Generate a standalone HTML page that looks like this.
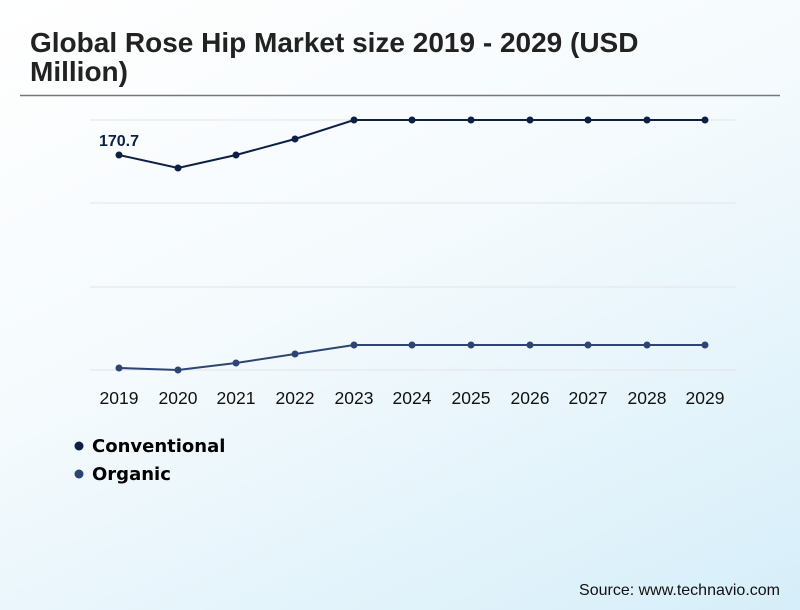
<!DOCTYPE html>
<html><head><style>
body{margin:0;width:800px;height:610px;overflow:hidden;background:linear-gradient(155deg,#ffffff 0%,#f4fafd 45%,#d6eef9 100%);font-family:"Liberation Sans",sans-serif;}
</style></head><body>
<svg width="800" height="610" xmlns="http://www.w3.org/2000/svg" style="position:absolute;left:0;top:0">
<text x="30" y="52" font-family="Liberation Sans" font-weight="bold" font-size="28" fill="#222">Global Rose Hip Market size 2019 - 2029 (USD</text>
<text x="30" y="81" font-family="Liberation Sans" font-weight="bold" font-size="28" fill="#222">Million)</text>
<line x1="20" y1="95.5" x2="780" y2="95.5" stroke="#777" stroke-width="1.5"/>
<g stroke="#e2e4e8" stroke-width="1">
<line x1="90" y1="120" x2="736" y2="120"/><line x1="90" y1="203" x2="736" y2="203"/>
<line x1="90" y1="287" x2="736" y2="287"/><line x1="90" y1="370" x2="736" y2="370"/>
</g>
<polyline fill="none" stroke="#0e1f45" stroke-width="2" points="119,155 178,168 236,155 295,139 354,120 412,120 471,120 530,120 588,120 647,120 705,120"/>
<g fill="#0e1f45">
<circle cx="119" cy="155" r="3.5"/><circle cx="178" cy="168" r="3.5"/><circle cx="236" cy="155" r="3.5"/><circle cx="295" cy="139" r="3.5"/><circle cx="354" cy="120" r="3.5"/><circle cx="412" cy="120" r="3.5"/><circle cx="471" cy="120" r="3.5"/><circle cx="530" cy="120" r="3.5"/><circle cx="588" cy="120" r="3.5"/><circle cx="647" cy="120" r="3.5"/><circle cx="705" cy="120" r="3.5"/>
</g>
<polyline fill="none" stroke="#2e4474" stroke-width="2" points="119,368 178,370 236,363 295,354 354,345 412,345 471,345 530,345 588,345 647,345 705,345"/>
<g fill="#2e4474">
<circle cx="119" cy="368" r="3.5"/><circle cx="178" cy="370" r="3.5"/><circle cx="236" cy="363" r="3.5"/><circle cx="295" cy="354" r="3.5"/><circle cx="354" cy="345" r="3.5"/><circle cx="412" cy="345" r="3.5"/><circle cx="471" cy="345" r="3.5"/><circle cx="530" cy="345" r="3.5"/><circle cx="588" cy="345" r="3.5"/><circle cx="647" cy="345" r="3.5"/><circle cx="705" cy="345" r="3.5"/>
</g>
<text x="119" y="146" text-anchor="middle" font-family="Liberation Sans" font-weight="bold" font-size="16" fill="#0e1f45">170.7</text>
<g font-family="Liberation Sans" font-size="17.5" fill="#111" text-anchor="middle">
<text x="119" y="404">2019</text><text x="178" y="404">2020</text><text x="236" y="404">2021</text><text x="295" y="404">2022</text><text x="354" y="404">2023</text><text x="412" y="404">2024</text><text x="471" y="404">2025</text><text x="530" y="404">2026</text><text x="588" y="404">2027</text><text x="647" y="404">2028</text><text x="705" y="404">2029</text>
</g>
<circle cx="79" cy="446" r="4.5" fill="#0e1f45"/>
<circle cx="79" cy="474" r="4.5" fill="#2e4474"/>
<text x="92" y="452" font-family="DejaVu Sans" font-weight="bold" font-size="18" fill="#000">Conventional</text>
<text x="92" y="480" font-family="DejaVu Sans" font-weight="bold" font-size="18" fill="#000">Organic</text>
<text x="780" y="595" text-anchor="end" font-family="Liberation Sans" font-size="16" fill="#111">Source: www.technavio.com</text>
</svg>
</body></html>
